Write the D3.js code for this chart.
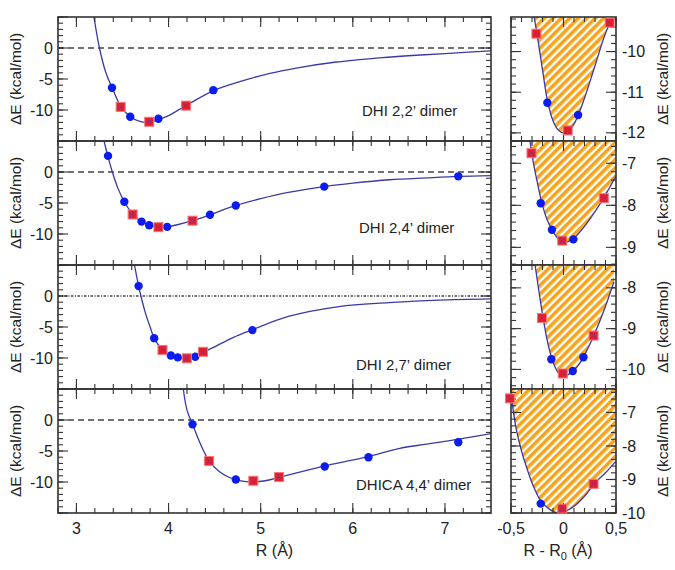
<!DOCTYPE html>
<html><head><meta charset="utf-8">
<script src="https://cdn.jsdelivr.net/npm/d3@7"></script>
<style>
body{margin:0;background:#fff}
text{font-family:"Liberation Sans",Arial,Helvetica,sans-serif;fill:#222}
</style>
</head><body>
<svg id="c" width="675" height="570"></svg>
<script>
// ---------------- DATA ----------------
const panelNames = ["DHI 2,2’ dimer", "DHI 2,4’ dimer", "DHI 2,7’ dimer", "DHICA 4,4’ dimer"];

// left panels: R (Å), ΔE (kcal/mol)
const p1Dots = [[3.386,-6.4],[3.584,-11.1],[3.89,-11.4],[4.486,-6.8]];
const p1Squares = [[3.48,-9.5],[3.79,-11.9],[4.19,-9.3]];
const p1CurveR = [3.19,3.25,3.32,3.39,3.48,3.58,3.68,3.78,3.88,4.0,4.2,4.5,4.8,5.1,5.4,5.8,6.2,6.6,7.0,7.5];
const p1CurveE = [5,0,-4,-6.5,-9.4,-11.0,-11.8,-12.0,-11.6,-10.9,-9.2,-6.8,-5.3,-4.1,-3.2,-2.3,-1.7,-1.25,-0.9,-0.45];

const p2Dots = [[3.343,2.6],[3.52,-4.8],[3.707,-8.0],[3.79,-8.6],[3.985,-8.85],[4.45,-6.9],[4.73,-5.4],[5.69,-2.36],[7.145,-0.7]];
const p2Squares = [[3.61,-6.85],[3.89,-8.9],[4.26,-7.85]];
const p2CurveR = [3.30,3.34,3.39,3.45,3.52,3.61,3.7,3.8,3.9,4.0,4.26,4.45,4.73,5.0,5.3,5.69,6.0,6.4,6.8,7.15,7.5];
const p2CurveE = [5,2.6,0,-2.6,-4.8,-6.8,-7.95,-8.6,-8.87,-8.8,-7.85,-6.9,-5.4,-4.3,-3.3,-2.36,-1.8,-1.25,-0.95,-0.72,-0.6];

const p3Dots = [[3.675,1.6],[3.844,-6.8],[4.025,-9.6],[4.10,-9.9],[4.29,-9.8],[4.91,-5.5]];
const p3Squares = [[3.934,-8.7],[4.198,-10.05],[4.374,-9.0]];
const p3CurveR = [3.63,3.675,3.70,3.75,3.80,3.844,3.934,4.025,4.10,4.18,4.29,4.374,4.5,4.7,4.91,5.3,5.85,6.39,6.93,7.5];
const p3CurveE = [5,1.6,0,-2.8,-5.0,-6.8,-8.7,-9.6,-9.95,-10.1,-9.8,-9.1,-8.2,-6.7,-5.45,-3.3,-1.7,-1.08,-0.65,-0.45];

const p4Dots = [[4.26,-0.7],[4.73,-9.6],[5.695,-7.5],[6.17,-6.0],[7.145,-3.6]];
const p4Squares = [[4.44,-6.6],[4.92,-9.8],[5.20,-9.2]];
const p4CurveR = [4.16,4.2,4.26,4.35,4.44,4.55,4.65,4.73,4.82,4.92,5.05,5.2,5.4,5.695,5.95,6.17,6.5,6.8,7.15,7.5];
const p4CurveE = [5,1.6,-0.7,-4.0,-6.6,-8.3,-9.2,-9.65,-9.9,-10.0,-9.8,-9.25,-8.5,-7.4,-6.6,-5.9,-4.6,-3.9,-3.1,-2.2];

// right panels: R - R0 (Å), ΔE (kcal/mol)
const r1Dots = [[-0.154,-11.26],[0.139,-11.56]];
const r1Squares = [[-0.258,-9.56],[0.04,-11.94],[0.44,-9.29]];
const r1CurveX = [-0.28,-0.25,-0.2,-0.15,-0.1,-0.05,0,0.05,0.1,0.15,0.2,0.3,0.4,0.48];
const r1CurveE = [-9.15,-9.6,-10.45,-11.25,-11.7,-11.93,-12.0,-11.95,-11.78,-11.5,-11.15,-10.35,-9.55,-9.1];

const r2Dots = [[-0.217,-7.95],[-0.11,-8.58],[0.094,-8.81]];
const r2Squares = [[-0.305,-6.76],[-0.012,-8.84],[0.384,-7.83]];
const r2CurveX = [-0.32,-0.3,-0.25,-0.2,-0.15,-0.1,-0.05,0,0.05,0.1,0.2,0.3,0.4,0.5];
const r2CurveE = [-6.45,-6.8,-7.45,-8.0,-8.38,-8.62,-8.8,-8.87,-8.86,-8.78,-8.5,-8.15,-7.75,-7.3];

const r3Dots = [[-0.116,-9.75],[0.088,-10.04],[0.19,-9.7]];
const r3Squares = [[-0.205,-8.74],[-0.007,-10.1],[0.286,-9.17]];
const r3CurveX = [-0.27,-0.2,-0.15,-0.1,-0.05,0,0.05,0.1,0.15,0.2,0.3,0.4,0.48];
const r3CurveE = [-7.45,-8.65,-9.35,-9.82,-10.08,-10.15,-10.12,-10.02,-9.87,-9.65,-9.1,-8.45,-7.85];

const r4Dots = [[-0.217,-9.72]];
const r4Squares = [[-0.51,-6.58],[-0.012,-9.87],[0.286,-9.13]];
const r4CurveX = [-0.5,-0.45,-0.4,-0.35,-0.3,-0.22,-0.15,-0.1,-0.05,0,0.1,0.2,0.3,0.4,0.5];
const r4CurveE = [-6.45,-7.5,-8.15,-8.65,-9.1,-9.62,-9.85,-9.95,-9.99,-9.97,-9.8,-9.5,-9.1,-8.8,-8.45];

// axes / ticks
const leftYDomain = [-15, 5];
const leftYTicks = [0, -5, -10];
const leftXDomain = [2.8, 7.5];
const leftXTicks = [3, 4, 5, 6, 7];
const rightXDomain = [-0.5, 0.5];
const rightXTicks = [-0.5, 0, 0.5];
const rightXTickLabels = ["-0,5", "0", "0,5"];
const rightYDomains = [[-12.2,-9.15],[-9.42,-6.47],[-10.48,-7.44],[-10,-6.3]];
const rightYTicks = [[-10,-11,-12],[-7,-8,-9],[-8,-9,-10],[-7,-8,-9,-10]];

// ---------------- LAYOUT ----------------
const tops = [17,141,265,389], H = 124;
const labelPos = [[362,116],[359,233],[356,370],[356,490]];
const zeroDash = ["6,4","6,4","2.5,1.5,1,1.5","6,4"];
const frameColor = "#333";
const curveColor = "#3a3aa6";

const svg = d3.select("#c");
const defs = svg.append("defs");
const pat = defs.append("pattern").attr("id","hatch").attr("patternUnits","userSpaceOnUse")
  .attr("width",6).attr("height",6).attr("patternTransform","rotate(45)");
pat.append("rect").attr("width",6).attr("height",6).attr("fill","#fff");
pat.append("rect").attr("width",3.6).attr("height",6).attr("fill","#f5a41e");

const xL = d3.scaleLinear().domain(leftXDomain).range([58,491]);
const xR = d3.scaleLinear().domain(rightXDomain).range([511,616]);

const leftPanels = [
  {dots:p1Dots, sq:p1Squares, cx:p1CurveR, cy:p1CurveE},
  {dots:p2Dots, sq:p2Squares, cx:p2CurveR, cy:p2CurveE},
  {dots:p3Dots, sq:p3Squares, cx:p3CurveR, cy:p3CurveE},
  {dots:p4Dots, sq:p4Squares, cx:p4CurveR, cy:p4CurveE}];
const rightPanels = [
  {dots:r1Dots, sq:r1Squares, cx:r1CurveX, cy:r1CurveE},
  {dots:r2Dots, sq:r2Squares, cx:r2CurveX, cy:r2CurveE},
  {dots:r3Dots, sq:r3Squares, cx:r3CurveX, cy:r3CurveE},
  {dots:r4Dots, sq:r4Squares, cx:r4CurveX, cy:r4CurveE}];

function ticksFrame(g, x, y, xMaj, xMin, yMaj, yMin){
  const [x0,x1] = x.range(), [y1,y0] = y.range();
  const L = (a,b,c,d)=>g.append("line").attr("x1",a).attr("y1",b).attr("x2",c).attr("y2",d)
      .attr("stroke",frameColor).attr("stroke-width",1.1);
  xMin.forEach(v=>{const px=x(v); L(px,y0,px,y0+5); L(px,y1,px,y1-5);});
  xMaj.forEach(v=>{const px=x(v); L(px,y0,px,y0+10); L(px,y1,px,y1-10);});
  yMin.forEach(v=>{const py=y(v); L(x0,py,x0+5,py); L(x1,py,x1-5,py);});
  yMaj.forEach(v=>{const py=y(v); L(x0,py,x0+10,py); L(x1,py,x1-10,py);});
  g.append("rect").attr("x",x0).attr("y",y0).attr("width",x1-x0).attr("height",y1-y0)
    .attr("fill","none").attr("stroke",frameColor).attr("stroke-width",1.6);
}

function marks(g, x, y, p){
  g.selectAll(null).data(p.dots).join("circle")
    .attr("cx",d=>x(d[0])).attr("cy",d=>y(d[1])).attr("r",4.2).attr("fill","#0a1cf0");
  const s = 9;
  const sg = g.selectAll(null).data(p.sq).join("g")
    .attr("transform",d=>`translate(${x(d[0])},${y(d[1])})`);
  sg.append("rect").attr("x",-s/2).attr("y",-s/2).attr("width",s).attr("height",s)
    .attr("fill","#e3202e").attr("stroke","#f27878").attr("stroke-width",1);
  sg.append("path").attr("d","M-2.2,-2.2L2.2,2.2M-2.2,2.2L2.2,-2.2")
    .attr("stroke","#3a3ad8").attr("stroke-width",1).attr("stroke-dasharray","1,1").attr("opacity",0.8);
}

tops.forEach((t,i)=>{
  // ----- left panel -----
  const yL = d3.scaleLinear().domain(leftYDomain).range([t+H,t]);
  const gl = svg.append("g");
  const clipL = "clipL"+i;
  defs.append("clipPath").attr("id",clipL).append("rect")
    .attr("x",xL.range()[0]).attr("y",t).attr("width",xL.range()[1]-xL.range()[0]).attr("height",H);
  gl.append("line").attr("x1",xL.range()[0]).attr("x2",xL.range()[1]).attr("y1",yL(0)).attr("y2",yL(0))
    .attr("stroke","#444").attr("stroke-width",1.3).attr("stroke-dasharray",zeroDash[i]);
  const gc = gl.append("g").attr("clip-path",`url(#${clipL})`);
  const lp = leftPanels[i];
  const pts = lp.cx.map((v,k)=>[v,lp.cy[k]]);
  const line = d3.line().x(d=>xL(d[0])).y(d=>yL(d[1])).curve(d3.curveCatmullRom.alpha(0.5));
  gc.append("path").attr("d",line(pts)).attr("fill","none").attr("stroke",curveColor).attr("stroke-width",1.3);
  marks(gl.append("g"), xL, yL, lp);
  ticksFrame(gl, xL, yL, leftXTicks, d3.range(2.8,7.45,0.2), [5,0,-5,-10,-15], d3.range(-15,5.5,1));
  gl.selectAll(null).data(leftYTicks).join("text")
    .attr("x",53).attr("y",d=>yL(d)).attr("dy","0.35em").attr("text-anchor","end")
    .attr("font-size",16).text(d=>d);
  gl.append("text").attr("transform",`translate(21,${t+H/2}) rotate(-90)`)
    .attr("text-anchor","middle").attr("font-size",15.5).text("ΔE (kcal/mol)");
  gl.append("text").attr("x",labelPos[i][0]).attr("y",labelPos[i][1]).attr("font-size",15).text(panelNames[i]);

  // ----- right panel -----
  const yR = d3.scaleLinear().domain(rightYDomains[i]).range([t+H,t]);
  const gr = svg.append("g");
  const clipR = "clipR"+i;
  defs.append("clipPath").attr("id",clipR).append("rect")
    .attr("x",xR.range()[0]).attr("y",t).attr("width",xR.range()[1]-xR.range()[0]).attr("height",H);
  const rp = rightPanels[i];
  const rpts = rp.cx.map((v,k)=>[v,rp.cy[k]]);
  const area = d3.area().x(d=>xR(d[0])).y0(t).y1(d=>yR(d[1])).curve(d3.curveCatmullRom.alpha(0.5));
  const grc = gr.append("g").attr("clip-path",`url(#${clipR})`);
  grc.append("path").attr("d",area(rpts)).attr("fill","url(#hatch)");
  const rline = d3.line().x(d=>xR(d[0])).y(d=>yR(d[1])).curve(d3.curveCatmullRom.alpha(0.5));
  grc.append("path").attr("d",rline(rpts)).attr("fill","none").attr("stroke",curveColor).attr("stroke-width",1.3);
  const [d0,d1] = rightYDomains[i];
  const minorY = d3.range(Math.ceil(d0*5)/5, d1+0.001, 0.2);
  ticksFrame(gr, xR, yR, rightXTicks, d3.range(-0.5,0.55,0.1), rightYTicks[i], minorY);
  marks(gr.append("g"), xR, yR, rp);
  gr.selectAll(null).data(rightYTicks[i]).join("text")
    .attr("x",622).attr("y",d=>yR(d)).attr("dy","0.35em").attr("text-anchor","start")
    .attr("font-size",16).text(d=>d);
  gr.append("text").attr("transform",`translate(668,${t+H/2}) rotate(-90)`)
    .attr("text-anchor","middle").attr("font-size",15.5).text("ΔE (kcal/mol)");
});

// bottom axis labels
const bottom = tops[3]+H;
svg.selectAll(null).data(leftXTicks).join("text")
  .attr("x",d=>xL(d)).attr("y",bottom+21).attr("text-anchor","middle").attr("font-size",16).text(d=>d);
svg.selectAll(null).data(rightXTicks).join("text")
  .attr("x",d=>xR(d)).attr("y",bottom+21).attr("text-anchor","middle").attr("font-size",16)
  .text((d,k)=>rightXTickLabels[k]);
svg.append("text").attr("x",(xL.range()[0]+xL.range()[1])/2).attr("y",bottom+43)
  .attr("text-anchor","middle").attr("font-size",16).text("R (Å)");
const t2 = svg.append("text").attr("x",558).attr("y",bottom+43).attr("text-anchor","middle").attr("font-size",16);
t2.append("tspan").text("R - R");
t2.append("tspan").attr("font-size",11).attr("dy",4).text("0");
t2.append("tspan").attr("dy",-4).text(" (Å)");
</script>
</body></html>
